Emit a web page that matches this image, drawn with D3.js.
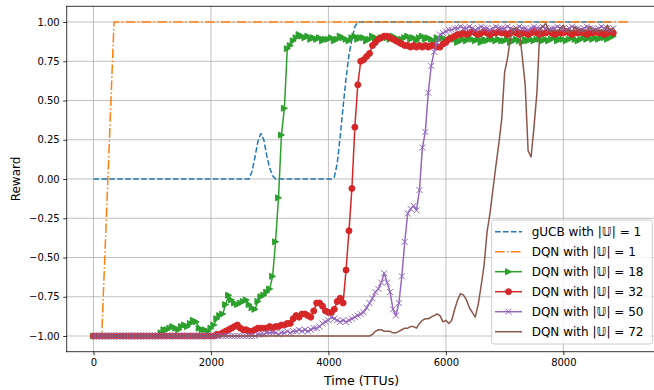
<!DOCTYPE html>
<html>
<head>
<meta charset="utf-8">
<script src="https://cdn.jsdelivr.net/npm/d3@7"></script>
<style>
  html, body { margin: 0; padding: 0; background: #fff; }
  svg { display: block; font-family: "DejaVu Sans", sans-serif; }
</style>
</head>
<body>
<svg id="chart" width="654" height="390"></svg>
<script>
// Sampling interval of the learning runs (TTUs)
const STEP = 50;
const time = d3.range(0, 8851, STEP);

// gUCB with |U| = 1
const gucb = [
  0,0,0,0,0,0,0,0,0,0,0,0,0,0,0,0,0,0,0,0,
  0,0,0,0,0,0,0,0,0,0,0,0,0,0,0,0,0,0,0,0,
  0,0,0,0,0,0,0,0,0,0,0,0,0,0,0.05,0.14,0.24,0.29,0.25,0.15,
  0.07,0.02,0,0,0,0,0,0,0,0,0,0,0,0,0,0,0,0,0,0,
  0,0,0.01,0.10,0.27,0.46,0.64,0.79,0.89,0.97,1,1,1,1,1,1,1,1,1,1,
  1,1,1,1,1,1,1,1,1,1,1,1,1,1,1,1,1,1,1,1,
  1,1,1,1,1,1,1,1,1,1,1,1,1,1,1,1,1,1,1,1,
  1,1,1,1,1,1,1,1,1,1,1,1,1,1,1,1,1,1,1,1,
  1,1,1,1,1,1,1,1,1,1,1,1,1,1,1,1,1,1
];

// DQN with |U| = 1
const dqn1Time = [0, 140, 350, 9130];
const dqn1 = [-1, -1, 1, 1];

// DQN with |U| = 18
const dqn18 = [
  -1,-1,-1,-1,-1,-1,-1,-1,-1,-1,-1,-1,-1,-1,-1,-1,-1,-1,-1,-1,
  -1,-1,-1,-0.98,-0.96,-0.96,-0.95,-0.94,-0.95,-0.96,-0.94,-0.93,-0.94,-0.92,-0.90,-0.91,-0.95,-0.96,-0.96,-0.97,
  -0.95,-0.93,-0.89,-0.87,-0.86,-0.80,-0.74,-0.77,-0.79,-0.80,-0.79,-0.78,-0.77,-0.80,-0.82,-0.83,-0.78,-0.75,-0.74,-0.72,
  -0.70,-0.62,-0.40,-0.12,0.28,0.45,0.83,0.85,0.88,0.90,0.92,0.91,0.90,0.91,0.89,0.90,0.89,0.90,0.88,0.89,
  0.89,0.90,0.88,0.89,0.91,0.90,0.89,0.88,0.90,0.91,0.89,0.90,0.90,0.88,0.89,0.91,0.90,0.89,0.90,0.90,
  0.90,0.89,0.91,0.90,0.88,0.89,0.90,0.91,0.89,0.90,0.88,0.90,0.91,0.89,0.90,0.89,0.88,0.90,0.89,0.90,
  0.89,0.88,0.90,0.89,0.87,0.88,0.89,0.88,0.90,0.89,0.88,0.89,0.87,0.89,0.88,0.90,0.89,0.88,0.89,0.88,
  0.88,0.89,0.87,0.88,0.89,0.88,0.87,0.89,0.88,0.89,0.88,0.89,0.89,0.88,0.89,0.88,0.89,0.90,0.88,0.89,
  0.89,0.88,0.89,0.90,0.89,0.88,0.89,0.90,0.89,0.90,0.89,0.90,0.89,0.90,0.90,0.89,0.90,0.91
];

// DQN with |U| = 32
const dqn32 = [
  -1,-1,-1,-1,-1,-1,-1,-1,-1,-1,-1,-1,-1,-1,-1,-1,-1,-1,-1,-1,
  -1,-1,-1,-1,-1,-1,-1,-1,-1,-1,-1,-1,-1,-1,-1,-1,-1,-1,-1,-1,
  -1,-1,-0.99,-0.99,-0.98,-0.97,-0.96,-0.95,-0.94,-0.93,-0.95,-0.96,-0.96,-0.97,-0.97,-0.96,-0.95,-0.95,-0.95,-0.95,
  -0.94,-0.95,-0.94,-0.94,-0.93,-0.93,-0.92,-0.92,-0.89,-0.87,-0.88,-0.86,-0.86,-0.87,-0.88,-0.84,-0.79,-0.79,-0.81,-0.84,
  -0.85,-0.85,-0.83,-0.78,-0.76,-0.79,-0.58,-0.33,-0.06,0.33,0.60,0.75,0.76,0.78,0.80,0.85,0.87,0.89,0.90,0.91,
  0.91,0.90,0.89,0.88,0.87,0.86,0.85,0.85,0.84,0.85,0.84,0.85,0.84,0.85,0.84,0.85,0.85,0.84,0.84,0.86,
  0.87,0.89,0.90,0.91,0.92,0.92,0.93,0.92,0.93,0.94,0.93,0.92,0.93,0.94,0.93,0.92,0.93,0.93,0.94,0.93,
  0.93,0.92,0.93,0.94,0.93,0.92,0.93,0.93,0.92,0.93,0.94,0.93,0.92,0.93,0.93,0.94,0.93,0.92,0.93,0.93,
  0.93,0.94,0.93,0.92,0.93,0.93,0.94,0.93,0.92,0.93,0.93,0.94,0.93,0.93,0.92,0.93,0.94,0.93
];

// DQN with |U| = 50
const dqn50 = [
  -1,-1,-1,-1,-1,-1,-1,-1,-1,-1,-1,-1,-1,-1,-1,-1,-1,-1,-1,-1,
  -1,-1,-1,-1,-1,-1,-1,-1,-1,-1,-1,-1,-1,-1,-1,-1,-1,-1,-1,-1,
  -1,-1,-1,-1,-1,-1,-1,-1,-1,-1,-1,-1,-1,-1,-1,-1,-0.99,-0.99,-0.99,-0.98,
  -0.98,-0.98,-0.98,-0.99,-0.98,-0.98,-0.97,-0.98,-0.97,-0.97,-0.96,-0.97,-0.96,-0.97,-0.96,-0.95,-0.95,-0.94,-0.92,-0.91,
  -0.90,-0.88,-0.89,-0.90,-0.91,-0.90,-0.91,-0.90,-0.89,-0.88,-0.87,-0.86,-0.85,-0.82,-0.79,-0.76,-0.72,-0.70,-0.66,-0.60,
  -0.66,-0.72,-0.83,-0.87,-0.79,-0.62,-0.40,-0.22,-0.19,-0.17,-0.20,-0.07,0.20,0.30,0.55,0.72,0.81,0.87,0.92,0.93,
  0.94,0.95,0.95,0.96,0.96,0.97,0.96,0.96,0.97,0.96,0.95,0.96,0.97,0.96,0.96,0.95,0.96,0.97,0.96,0.96,
  0.96,0.97,0.96,0.95,0.96,0.97,0.96,0.96,0.95,0.96,0.97,0.96,0.96,0.97,0.96,0.95,0.96,0.96,0.97,0.96,
  0.96,0.95,0.96,0.97,0.96,0.96,0.95,0.96,0.97,0.96,0.96,0.95,0.96,0.97,0.96,0.96,0.95,0.96
];

// DQN with |U| = 72
const dqn72 = [
  -1,-1,-1,-1,-1,-1,-1,-1,-1,-1,-1,-1,-1,-1,-1,-1,-1,-1,-1,-1,
  -1,-1,-1,-1,-1,-1,-1,-1,-1,-1,-1,-1,-1,-1,-1,-1,-1,-1,-1,-1,
  -1,-1,-1,-1,-1,-1,-1,-1,-1,-1,-1,-1,-1,-1,-1,-1,-1,-1,-1,-1,
  -1,-1,-1,-1,-1,-1,-1,-1,-1,-1,-1,-1,-1,-1,-1,-1,-1,-1,-1,-1,
  -1,-1,-1,-1,-1,-1,-1,-1,-1,-1,-1,-1,-1,-1,-1,-0.99,-0.97,-0.96,-0.96,-0.97,
  -0.97,-0.97,-0.98,-0.98,-0.97,-0.96,-0.95,-0.95,-0.94,-0.94,-0.95,-0.92,-0.90,-0.89,-0.89,-0.88,-0.87,-0.86,-0.87,-0.91,
  -0.90,-0.92,-0.90,-0.83,-0.77,-0.73,-0.74,-0.77,-0.82,-0.85,-0.88,-0.80,-0.68,-0.55,-0.34,-0.22,-0.07,0.08,0.22,0.38,
  0.68,0.77,0.90,0.96,0.96,0.95,0.78,0.60,0.18,0.14,0.33,0.55,0.95,0.97,0.99,0.95,0.94,0.95,0.94,0.96,
  0.98,0.94,0.95,0.94,0.97,0.94,0.95,0.94,0.95,0.97,0.94,0.95,0.94,0.95,0.94,0.98,0.94,0.96
];

const xTicks = [0, 2000, 4000, 6000, 8000];
const yTicks = [-1.00, -0.75, -0.50, -0.25, 0.00, 0.25, 0.50, 0.75, 1.00];

const series = [
  { label: "gUCB", n: "1",  x: time,     y: gucb,  color: "#1f77b4", dash: "5.55,2.4" },
  { label: "DQN",  n: "1",  x: dqn1Time, y: dqn1,  color: "#ff7f0e", dash: "9.6,2.4,1.5,2.4" },
  { label: "DQN",  n: "18", x: time,     y: dqn18, color: "#2ca02c", marker: "tri" },
  { label: "DQN",  n: "32", x: time,     y: dqn32, color: "#d62728", marker: "circle" },
  { label: "DQN",  n: "50", x: time,     y: dqn50, color: "#9467bd", marker: "x" },
  { label: "DQN",  n: "72", x: time,     y: dqn72, color: "#8c564b" }
];

const svg = d3.select("#chart");
const L = 66.7, R = 656.5, T = 6.3, B = 351.7;

const x = d3.scaleLinear().domain([-456, 9586]).range([L, R]);
const y = d3.scaleLinear().domain([-1.1, 1.1]).range([B, T]);

svg.append("defs").append("clipPath").attr("id", "plot")
  .append("rect").attr("x", L).attr("y", T).attr("width", R - L).attr("height", B - T);

// grid
const grid = svg.append("g");
grid.selectAll("line.gx").data(xTicks).join("line")
  .attr("x1", d => x(d)).attr("x2", d => x(d)).attr("y1", T).attr("y2", B)
  .attr("stroke", "#b0b0b0").attr("stroke-width", 0.8);
grid.selectAll("line.gy").data(yTicks).join("line")
  .attr("y1", d => y(d)).attr("y2", d => y(d)).attr("x1", L).attr("x2", R)
  .attr("stroke", "#b0b0b0").attr("stroke-width", 0.8);

function markerPath(kind) {
  if (kind === "tri") return "M3,0L-3,3L-3,-3Z";
  if (kind === "x") return "M-3,-3L3,3M-3,3L3,-3";
  return null;
}

function drawMarker(g, kind, color, px, py) {
  if (kind === "circle") {
    g.append("circle").attr("cx", px).attr("cy", py).attr("r", 3)
      .attr("fill", color).attr("stroke", color).attr("stroke-width", 1);
  } else {
    g.append("path").attr("d", markerPath(kind))
      .attr("transform", `translate(${px},${py})`)
      .attr("fill", kind === "x" ? "none" : color)
      .attr("stroke", color).attr("stroke-width", 1);
  }
}

const dataG = svg.append("g").attr("clip-path", "url(#plot)");
const line = d3.line().x(d => x(d[0])).y(d => y(d[1]));

series.forEach(s => {
  const pts = s.x.map((t, i) => [t, s.y[i]]);
  const g = dataG.append("g");
  g.append("path").attr("d", line(pts))
    .attr("fill", "none").attr("stroke", s.color).attr("stroke-width", 1.5)
    .attr("stroke-dasharray", s.dash || null)
    .attr("stroke-linejoin", "round").attr("stroke-linecap", s.dash ? "butt" : "square");
  if (s.marker) {
    pts.forEach(p => drawMarker(g, s.marker, s.color, x(p[0]), y(p[1])));
  }
});

// spines
const ax = svg.append("g");
[[L, T, L, B], [L, B, R, B], [L, T, R, T], [R, T, R, B]].forEach(c => {
  ax.append("line").attr("x1", c[0]).attr("y1", c[1]).attr("x2", c[2]).attr("y2", c[3])
    .attr("stroke", "#000").attr("stroke-width", 0.8).attr("stroke-linecap", "square");
});

// axes with ticks
const xAxis = d3.axisBottom(x).tickValues(xTicks).tickSize(3.5).tickPadding(3.5)
  .tickFormat(d3.format("d"));
const yAxis = d3.axisLeft(y).tickValues(yTicks).tickSize(3.5).tickPadding(3.5)
  .tickFormat(d => d3.format(".2f")(d).replace("-", "\u2212"));

const gx = svg.append("g").attr("transform", `translate(0,${B})`).call(xAxis);
const gy = svg.append("g").attr("transform", `translate(${L},0)`).call(yAxis);
[gx, gy].forEach(g => {
  g.select(".domain").remove();
  g.selectAll(".tick line").attr("stroke", "#000").attr("stroke-width", 0.8);
  g.selectAll(".tick text").attr("fill", "#000").attr("font-size", 10)
    .attr("font-family", "DejaVu Sans");
});

svg.append("text").attr("x", (L + R) / 2).attr("y", 384.5).attr("text-anchor", "middle")
  .attr("font-size", 12.5).text("Time (TTUs)");
svg.append("text").attr("transform", `translate(20,${(T + B) / 2}) rotate(-90)`)
  .attr("text-anchor", "middle").attr("font-size", 12).text("Reward");

// legend
const lg = svg.append("g");
lg.append("rect").attr("x", 491.7).attr("y", 220).attr("width", 160.6).attr("height", 124)
  .attr("rx", 2.5).attr("fill", "#fff").attr("fill-opacity", 0.8)
  .attr("stroke", "#cccccc").attr("stroke-width", 1);
series.forEach((s, i) => {
  const cy = 231.7 + i * 20;
  lg.append("line").attr("x1", 495).attr("x2", 522).attr("y1", cy).attr("y2", cy)
    .attr("stroke", s.color).attr("stroke-width", 1.5)
    .attr("stroke-dasharray", s.dash || null);
  if (s.marker) drawMarker(lg, s.marker, s.color, 508.5, cy);
  lg.append("text").attr("x", 531.7).attr("y", cy).attr("dy", "0.36em")
    .attr("font-size", 12).text(`${s.label} with |\u{1D54C}| = ${s.n}`);
});
</script>
</body>
</html>
